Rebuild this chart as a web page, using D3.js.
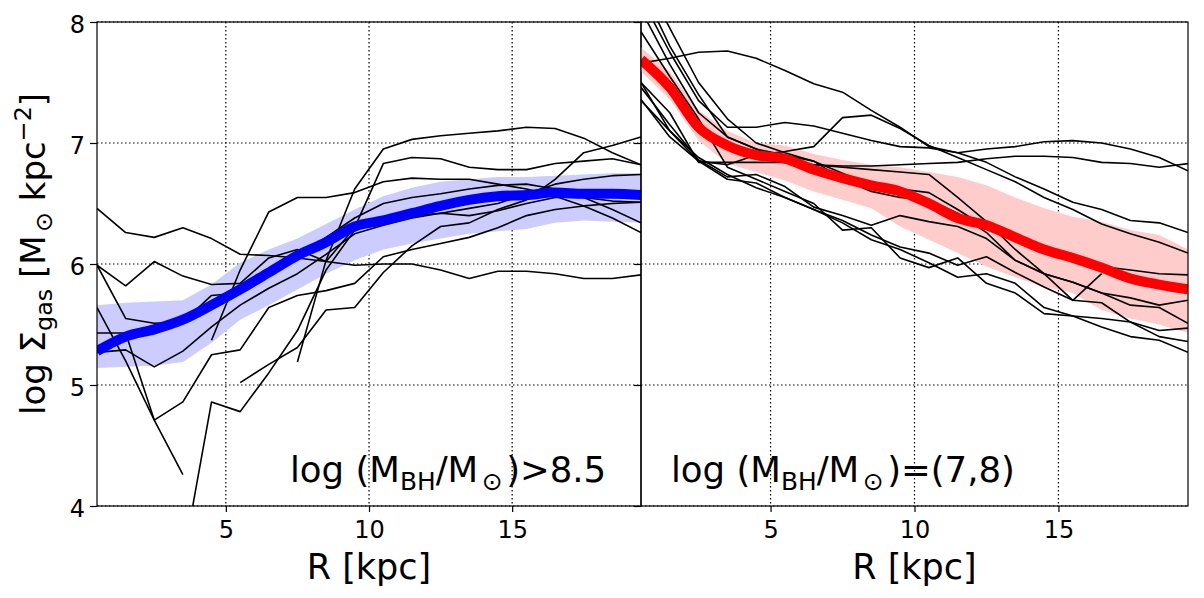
<!DOCTYPE html>
<html>
<head>
<meta charset="utf-8">
<script src="https://cdn.jsdelivr.net/npm/d3@7"></script>
<style>
  html, body { margin: 0; padding: 0; background: #fff; }
  svg { display: block; font-family: "DejaVu Sans", sans-serif; }
</style>
</head>
<body>
<svg id="chart" width="1204" height="598"></svg>
<script>
// ---------------- DATA ----------------
const radius = [0.5,1.5,2.5,3.5,4.5,5.5,6.5,7.5,8.5,9.5,10.5,11.5,12.5,13.5,14.5,15.5,16.5,17.5,18.5,19.5];

// Left panel: log(M_BH/M_sun) > 8.5
const highMedian = [5.28,5.40,5.46,5.54,5.66,5.79,5.93,6.07,6.18,6.31,6.36,6.42,6.48,6.53,6.56,6.57,6.59,6.58,6.58,6.57];
const highUpper  = [5.66,5.68,5.69,5.70,5.83,6.01,6.12,6.21,6.33,6.45,6.56,6.63,6.68,6.70,6.72,6.72,6.73,6.74,6.75,6.75];
const highLower  = [5.14,5.15,5.16,5.19,5.35,5.54,5.66,5.79,5.92,6.03,6.12,6.17,6.21,6.25,6.27,6.29,6.34,6.36,6.35,6.34];
const highGalaxies = [
  [6.46,6.26,6.22,6.30,6.21,6.08,6.07,6.05,6.02,5.99,6.00,6.00,5.95,5.88,5.94,5.94,5.92,5.88,5.88,5.91],
  [5.99,5.82,6.02,5.90,5.83,5.84,6.05,6.12,6.02,6.30,6.83,6.88,6.87,6.80,6.78,6.78,6.83,6.85,6.87,6.82],
  [5.99,5.55,5.51,5.52,5.74,5.76,5.92,6.08,6.22,6.38,6.50,6.55,6.58,6.62,6.65,6.66,6.62,6.55,6.45,6.34],
  [5.64,5.20,4.71,4.26,null,null,null,null,null,null,null,null,null,null,null,null,null,null,null,null],
  [5.43,5.43,4.71,4.86,5.25,5.29,5.64,5.74,5.78,5.84,6.06,6.12,6.17,6.22,6.30,6.40,6.45,6.48,6.50,6.51],
  [5.27,5.29,5.15,5.28,5.48,5.66,5.80,5.92,6.08,6.25,6.32,6.38,6.42,6.46,6.50,6.58,6.66,6.70,6.73,6.74],
  [null,null,null,3.55,4.86,4.78,5.10,5.45,5.95,6.28,6.36,6.40,6.42,6.40,6.44,6.50,6.55,6.55,6.52,6.51],
  [null,null,null,null,null,5.02,5.17,5.31,5.62,5.64,5.93,6.15,6.31,6.34,6.45,6.53,6.70,6.92,6.98,7.05],
  [null,null,null,null,null,null,null,5.19,6.03,6.62,6.95,7.03,7.06,7.08,7.10,7.13,7.12,7.04,6.92,6.82],
  [null,null,null,null,5.37,5.95,6.43,6.55,6.55,6.59,6.68,6.71,6.70,6.70,6.66,6.62,6.56,6.48,6.38,6.26]
];

// Right panel: log(M_BH/M_sun) = (7,8)
const midMedian = [7.69,7.46,7.13,6.98,6.90,6.87,6.78,6.71,6.65,6.60,6.50,6.38,6.32,6.22,6.12,6.05,5.97,5.88,5.83,5.79];
const midUpper  = [7.79,7.59,7.27,7.10,7.00,6.98,6.91,6.86,6.82,6.80,6.76,6.72,6.65,6.55,6.46,6.39,6.35,6.28,6.24,6.12];
const midLower  = [7.59,7.36,7.02,6.83,6.76,6.69,6.60,6.53,6.46,6.31,6.20,6.09,5.98,5.89,5.81,5.76,5.62,5.55,5.50,5.43];
const midGalaxies = [
  [7.66,7.70,7.75,7.76,7.70,7.60,7.49,7.42,7.27,7.13,6.97,6.92,6.84,6.72,6.62,6.51,6.45,6.36,6.34,6.26],
  [8.20,7.75,7.35,7.13,7.13,7.17,7.14,7.08,7.02,6.97,6.96,6.92,6.95,6.97,7.01,7.02,7.00,6.95,6.88,6.77],
  [7.50,7.25,6.84,6.84,6.84,6.84,6.82,6.81,6.81,6.82,6.83,6.84,6.87,6.89,6.89,6.88,6.84,6.83,6.80,6.83],
  [7.35,7.10,6.85,6.82,6.90,6.93,6.97,7.21,7.23,7.12,6.98,6.88,6.78,6.68,6.55,6.45,6.33,6.25,6.18,6.09],
  [8.30,7.80,7.40,7.05,6.95,6.85,6.82,6.80,6.78,6.76,6.74,6.55,6.35,6.12,5.92,5.70,5.92,null,null,null],
  [7.46,7.15,6.86,6.72,6.74,6.64,6.47,6.40,6.32,6.40,6.35,6.31,6.21,6.03,5.92,5.85,5.76,5.66,5.64,5.51],
  [7.36,7.05,6.85,6.70,6.67,6.55,6.45,6.36,6.24,6.14,6.09,5.99,6.06,5.93,5.81,5.70,5.68,5.52,5.40,5.36],
  [7.50,7.10,6.88,6.74,6.63,6.55,6.45,6.34,6.20,6.12,6.01,5.89,5.92,5.84,5.64,5.57,5.48,5.40,5.37,5.27],
  [7.92,7.55,7.20,6.80,6.70,6.60,6.50,6.28,6.30,6.05,5.97,6.05,5.84,5.76,5.59,5.57,5.55,5.52,5.45,5.47],
  [8.40,7.95,7.50,7.20,7.00,6.92,6.85,6.75,6.65,6.62,6.59,6.45,6.30,6.22,6.12,6.03,5.98,5.95,5.92,5.91],
  [8.10,7.65,7.25,7.05,6.95,6.90,6.85,6.70,6.60,6.55,6.53,6.42,6.26,6.03,5.92,5.85,5.76,5.72,5.66,5.70]
];

const xTicks = [5, 10, 15];
const yTicks = [4, 5, 6, 7, 8];
const xLabel = "R [kpc]";
const leftNote  = [{t:"log (M"},{t:"BH",sub:true},{t:"/M"},{t:"\u2299",sub:true,gap:true},{t:")>8.5",gap:true}];
const rightNote = [{t:"log (M"},{t:"BH",sub:true},{t:"/M"},{t:"\u2299",sub:true,gap:true},{t:")=(7,8)",gap:true}];
const yLabelParts = [{t:"log \u03A3"},{t:"gas",sub:true},{t:" [M"},{t:"\u2299",sub:true,gap:true},{t:" kpc"},{t:"\u22122",sup:true},{t:"]"}];

// ---------------- LAYOUT ----------------
const svg = d3.select("#chart");
const yTop = 22, yBottom = 506;
const y = d3.scaleLinear().domain([4, 8]).range([yBottom, yTop]);

const panels = [
  {x: d3.scaleLinear().domain([0.5, 19.5]).range([97, 641]), median: highMedian, upper: highUpper, lower: highLower,
   gals: highGalaxies, color: "#0000ff", band: "#ccccff", note: leftNote, noteX: 290, showY: true},
  {x: d3.scaleLinear().domain([0.5, 19.5]).range([641, 1188]), median: midMedian, upper: midUpper, lower: midLower,
   gals: midGalaxies, color: "#ff0000", band: "#ffcccc", note: rightNote, noteX: 671, showY: false}
];

function richText(sel, parts, size) {
  let shift = 0;
  parts.forEach(p => {
    const target = p.sub ? 0.22 * size : (p.sup ? -0.42 * size : 0);
    const ts = sel.append("tspan").text(p.t).attr("dy", target - shift);
    if (p.sub || p.sup) ts.attr("font-size", size * 0.7);
    if (p.gap) ts.attr("dx", size * 0.1);
    shift = target;
  });
}

panels.forEach((p, i) => {
  const [x0, x1] = p.x.range();
  const g = svg.append("g");
  const clipId = "clip" + i;
  svg.append("clipPath").attr("id", clipId).append("rect")
    .attr("x", x0).attr("y", yTop).attr("width", x1 - x0).attr("height", yBottom - yTop);

  // grid
  const grid = g.append("g").attr("stroke", "#000").attr("stroke-width", 1.2).attr("stroke-dasharray", "1.5,2.5");
  xTicks.forEach(t => grid.append("line").attr("x1", p.x(t)).attr("x2", p.x(t)).attr("y1", yTop).attr("y2", yBottom));
  yTicks.forEach(t => grid.append("line").attr("x1", x0).attr("x2", x1).attr("y1", y(t)).attr("y2", y(t)));

  const plot = g.append("g").attr("clip-path", `url(#${clipId})`);
  // band
  const area = d3.area().x((d, k) => p.x(radius[k])).y0((d, k) => y(p.lower[k])).y1((d, k) => y(p.upper[k]));
  plot.append("path").datum(p.upper).attr("d", area).attr("fill", p.band).attr("stroke", "none");

  // individual galaxies
  const line = d3.line().defined(d => d != null).x((d, k) => p.x(radius[k])).y(d => y(d));
  p.gals.forEach(arr => {
    plot.append("path").datum(arr).attr("d", line).attr("fill", "none")
      .attr("stroke", "#000").attr("stroke-width", 1.6).attr("stroke-linejoin", "round");
  });

  // median
  plot.append("path").datum(p.median).attr("d", line.curve(d3.curveMonotoneX)).attr("fill", "none")
    .attr("stroke", p.color).attr("stroke-width", 10).attr("stroke-linejoin", "round");

  // frame
  g.append("rect").attr("x", x0).attr("y", yTop).attr("width", x1 - x0).attr("height", yBottom - yTop)
    .attr("fill", "none").attr("stroke", "#000").attr("stroke-width", 1.2);

  // x axis
  const xAxis = d3.axisBottom(p.x).tickValues(xTicks).tickSize(6).tickPadding(6).tickFormat(d3.format("d"));
  const xa = g.append("g").attr("transform", `translate(0,${yBottom})`).call(xAxis);
  xa.select(".domain").remove();
  xa.selectAll(".tick line").attr("stroke", "#000").attr("stroke-width", 1.2);
  xa.selectAll(".tick text").attr("font-size", 24).attr("font-family", "DejaVu Sans").attr("fill", "#000")
    .attr("dy", null).attr("y", 32);

  // y axis
  const yAxis = d3.axisLeft(y).tickValues(yTicks).tickSize(7).tickPadding(5).tickFormat(p.showY ? d3.format("d") : () => "");
  const ya = g.append("g").attr("transform", `translate(${x0},0)`).call(yAxis);
  ya.select(".domain").remove();
  ya.selectAll(".tick line").attr("stroke", "#000").attr("stroke-width", 1.2);
  ya.selectAll(".tick text").attr("font-size", 24).attr("font-family", "DejaVu Sans").attr("fill", "#000")
    .attr("dy", "0.42em").attr("x", -12);

  // x label
  g.append("text").attr("x", (x0 + x1) / 2).attr("y", 579).attr("text-anchor", "middle")
    .attr("font-size", 35).attr("fill", "#000").text(xLabel);

  // annotation
  const note = g.append("text").attr("x", p.noteX).attr("y", 482).attr("font-size", 35.5).attr("fill", "#000");
  richText(note, p.note, 35.5);
});

// y label
const yl = svg.append("text").attr("transform", "translate(45,254) rotate(-90)")
  .attr("text-anchor", "middle").attr("font-size", 34).attr("fill", "#000");
richText(yl, yLabelParts, 34);
</script>
</body>
</html>
